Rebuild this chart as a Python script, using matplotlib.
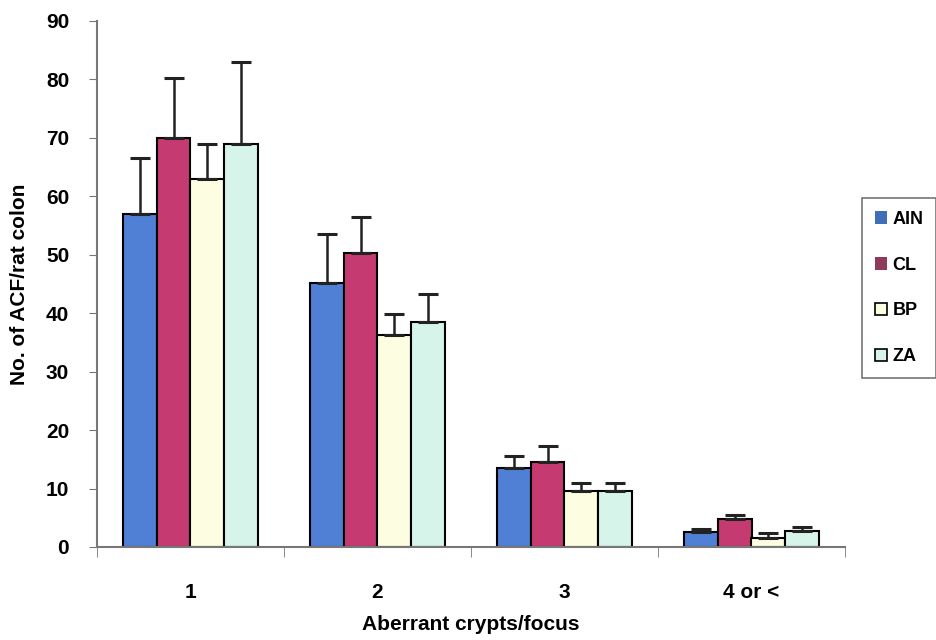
import matplotlib
matplotlib.use('Agg')
import matplotlib.pyplot as plt
import numpy as np

plt.rcParams['font.family'] = ['Liberation Sans', 'DejaVu Sans']
plt.rcParams['font.weight'] = 'bold'

# data
categories = ['1', '2', '3', '4 or <']
series = ['AIN', 'CL', 'BP', 'ZA']
ain = [57, 45.2, 13.5, 2.6]
cl = [70, 50.3, 14.5, 4.8]
bp = [63, 36.3, 9.5, 1.5]
za = [69, 38.5, 9.5, 2.7]
ain_err = [9.5, 8.3, 2.0, 0.5]
cl_err = [10.3, 6.2, 2.8, 0.6]
bp_err = [6.0, 3.5, 1.5, 0.9]
za_err = [14.0, 4.8, 1.5, 0.7]

values = [ain, cl, bp, za]
errors = [ain_err, cl_err, bp_err, za_err]
colors = ['#4f80d6', '#c63a72', '#fdfde2', '#d6f4ea']
legend_colors = ['#3f6fb8', '#8e3a5c', '#fdfde2', '#d6f4ea']

fig = plt.figure(figsize=(9.37, 6.4), dpi=100)
ax = fig.add_axes([97/937, 93/640, 748/937, 526/640])

x = np.arange(len(categories))
w = 0.18
for i in range(4):
    pos = x + (i - 1.5) * w
    ax.bar(pos, values[i], width=w, color=colors[i], edgecolor='black', linewidth=1.5,
           label=series[i], zorder=2)
    ax.errorbar(pos, values[i], yerr=[np.zeros(4), errors[i]], fmt='none',
                ecolor='#222222', elinewidth=1.8, capsize=7, capthick=2.2, zorder=3)

ax.set_xlim(-0.5, 3.5)
ax.set_ylim(0, 90)
ax.set_yticks(range(0, 91, 10))
ax.set_xticks(x)
ax.set_xticklabels(categories, fontsize=15, fontweight='bold')
ax.set_xticks(np.arange(-0.5, 4, 1), minor=True)
ax.tick_params(axis='x', which='major', length=0, pad=26)
ax.tick_params(axis='x', which='minor', length=7, direction='out', color='#777777')
ax.tick_params(axis='y', labelsize=15, length=6, color='#777777', pad=14)
for lab in ax.get_yticklabels():
    lab.set_fontweight('bold')

ax.spines['top'].set_visible(False)
ax.spines['right'].set_visible(False)
ax.spines['left'].set_color('#777777')
ax.spines['bottom'].set_color('#777777')
ax.spines['left'].set_linewidth(1.5)
ax.spines['bottom'].set_linewidth(1.5)

ax.set_ylabel('No. of ACF/rat colon', fontsize=15, fontweight='bold', labelpad=12)
ax.set_xlabel('Aberrant crypts/focus', fontsize=15, fontweight='bold', va='center')
ax.xaxis.set_label_coords(0.5, (15 - 93) / 526)

handles = [plt.Rectangle((0, 0), 1, 1, facecolor=legend_colors[i],
                         edgecolor=('none' if i < 2 else 'black'), linewidth=1.2)
           for i in range(4)]
leg = fig.legend(handles, series, loc='upper left', bbox_to_anchor=(862/937, 1 - 198/640),
                 frameon=True, fancybox=False, edgecolor='#555555', fontsize=13,
                 handlelength=0.7, handleheight=0.7, handletextpad=0.3,
                 labelspacing=1.6, borderpad=0.7, borderaxespad=0)
leg.get_frame().set_linewidth(1.2)
for t in leg.get_texts():
    t.set_fontweight('bold')

fig.savefig('out.png', dpi=100)
